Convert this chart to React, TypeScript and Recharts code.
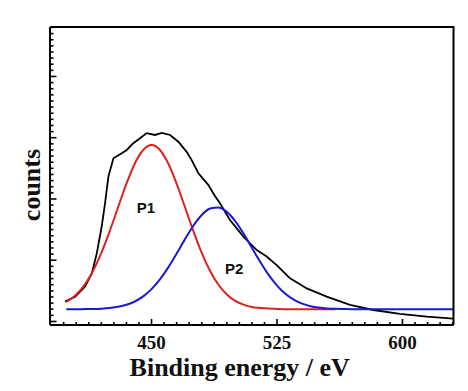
import { LineChart, Line, XAxis, YAxis, ReferenceDot } from 'recharts';

// measured spectrum (black)
const blackX = [398.3, 404.3, 410.3, 414.3, 417.3, 420.2, 422.2, 424.2, 427.2, 432.2, 435.2, 439.1, 443.1, 447.1, 452.1, 456.1, 461.1, 466.0, 471.0, 474.0, 478.0, 483.9, 487.5, 490.9, 496.9, 504.9, 512.9, 518.8, 524.8, 532.8, 542.8, 554.7, 568.6, 582.6, 598.5, 614.5, 628.4, 630.5];
const blackY = [6.5, 8.1, 11.4, 15.7, 22.3, 31.0, 38.6, 47.3, 53.3, 54.9, 56.0, 58.2, 59.8, 61.5, 60.9, 61.6, 60.9, 58.7, 55.4, 52.7, 48.4, 44.6, 41.3, 38.6, 33.1, 27.7, 23.3, 21.2, 18.4, 14.1, 10.8, 8.1, 5.4, 3.75, 2.45, 1.57, 1.0, 0.9];

// fitted peak P1 (red)
const p1X = [399, 405, 410, 415, 420, 425, 430, 435, 440, 445, 450, 455, 460, 465, 470, 475, 480, 485, 490, 495, 500, 505, 510, 515, 520, 525, 530, 535, 540, 545, 550, 555, 560];
const p1Y = [6.4, 8.8, 12.0, 16.5, 22.4, 29.5, 37.3, 45.0, 51.6, 56.0, 57.6, 56.0, 51.6, 45.0, 37.3, 29.5, 22.4, 16.5, 12.0, 8.8, 6.7, 5.5, 4.7, 4.4, 4.2, 4.1, 4.0, 4.0, 4.0, 4.0, 4.0, 4.0, 4.0];

// fitted peak P2 (blue)
const p2X = [399, 405, 410, 415, 420, 425, 430, 435, 440, 445, 450, 455, 460, 465, 470, 475, 480, 485, 490, 495, 500, 505, 510, 515, 520, 525, 530, 535, 540, 545, 550, 555, 560, 565, 570, 575, 580, 585, 590, 595, 600, 605, 610, 615, 620, 625, 630, 630.5];
const p2Y = [4.0, 4.0, 4.04, 4.09, 4.19, 4.4, 4.78, 5.44, 6.52, 8.18, 10.56, 13.73, 17.67, 22.18, 26.89, 31.27, 34.76, 36.86, 37.22, 35.79, 32.8, 28.71, 24.06, 19.42, 15.22, 11.73, 9.04, 7.11, 5.82, 5.0, 4.53, 4.26, 4.12, 4.05, 4.0, 4.0, 4.0, 4.0, 4.0, 4.0, 4.0, 4.0, 4.0, 4.0, 4.0, 4.0, 4.0, 4.0];

const xMajor = [450, 525, 600];
const yMajor = [0, 20, 40, 60, 80];
const xTicks = Array.from({ length: 32 }, (_, i) => 397.5 + i * 7.5);
const yTicks = Array.from({ length: 49 }, (_, i) => i * 2);

const X_DOMAIN = [389.3, 630.5];
const Y_DOMAIN = [-1.15, 96.15];

const toRows = (xs: number[], ys: number[]) => xs.map((x, i) => ({ x, y: ys[i] }));
const blackData = toRows(blackX, blackY);
const p1Data = toRows(p1X, p1Y);
const p2Data = toRows(p2X, p2Y);

const MARGIN = { top: 19, right: 14.5, bottom: 0, left: 0 };

const serif = '"Liberation Serif", "Times New Roman", serif';
const sans = '"Liberation Sans", Arial, sans-serif';

const isMajor = (list: number[], v: number) => list.some((m) => Math.abs(m - v) < 0.01);

const XTick = ({ x, y, payload }: any) => {
  const major = isMajor(xMajor, payload.value);
  return (
    <g>
      <line x1={x} y1={y} x2={x} y2={y - (major ? 6 : 3)} stroke="#000" strokeWidth={1.6} />
      {major && (
        <text x={x} y={y + 24} textAnchor="middle" fontFamily={serif} fontWeight="bold" fontSize={19} fill="#111">
          {payload.value}
        </text>
      )}
    </g>
  );
};

const YTick = ({ x, y, payload }: any) => {
  const major = isMajor(yMajor, payload.value);
  return <line x1={x} y1={y} x2={x + (major ? 6.5 : 3.5)} y2={y} stroke="#000" strokeWidth={1.6} />;
};

const PeakLabel = (text: string) => ({ viewBox }: any) => (
  <text x={viewBox.x + viewBox.width / 2} y={viewBox.y + viewBox.height / 2} textAnchor="middle"
    fontFamily={sans} fontWeight="bold" fontSize={15} fill="#111">
    {text}
  </text>
);

// x-axis title, plus the top and right edges of the box frame
const XTitle = ({ viewBox }: any) => {
  const left = viewBox.x;
  const right = viewBox.x + viewBox.width;
  const bottom = viewBox.y;
  return (
    <g>
      <path d={`M${left},${MARGIN.top} H${right} V${bottom}`} fill="none" stroke="#000" strokeWidth={2} />
      <text x={left + viewBox.width / 2 - 12} y={bottom + 51} textAnchor="middle"
        fontFamily={serif} fontWeight="bold" fontSize={26} fill="#111">
        Binding energy / eV
      </text>
    </g>
  );
};

export default function App() {
  return (
    <div style={{ width: 460, height: 377, background: '#fff' }}>
      <LineChart width={460} height={377} margin={MARGIN}>
        <XAxis dataKey="x" type="number" domain={X_DOMAIN} allowDataOverflow ticks={xTicks} interval={0}
          tick={<XTick />} tickLine={false} tickSize={0} tickMargin={0} height={60}
          axisLine={{ stroke: '#000', strokeWidth: 2 }}
          label={{ content: XTitle }}
        />
        <YAxis type="number" domain={Y_DOMAIN} allowDataOverflow ticks={yTicks} interval={0} width={42}
          tick={<YTick />} tickLine={false} tickSize={0} tickMargin={0}
          axisLine={{ stroke: '#000', strokeWidth: 2 }}
          label={{
            content: ({ viewBox }: any) => {
              const cx = 32;
              const cy = viewBox.y + viewBox.height / 2 + 9;
              return (
                <text x={cx} y={cy} transform={`rotate(-90, ${cx}, ${cy})`} textAnchor="middle"
                  fontFamily={serif} fontWeight="bold" fontSize={26} fill="#111">
                  counts
                </text>
              );
            },
          }}
        />
        <Line data={blackData} dataKey="y" type="linear" stroke="#000" strokeWidth={1.8} dot={false} isAnimationActive={false} />
        <Line data={p1Data} dataKey="y" type="monotone" stroke="#dd2222" strokeWidth={2} dot={false} isAnimationActive={false} />
        <Line data={p2Data} dataKey="y" type="monotone" stroke="#1a1ad0" strokeWidth={2} dot={false} isAnimationActive={false} />
        <ReferenceDot x={446.6} y={35.3} r={0} fill="none" stroke="none" label={{ content: PeakLabel('P1') }} />
        <ReferenceDot x={499.4} y={15.5} r={0} fill="none" stroke="none" label={{ content: PeakLabel('P2') }} />
      </LineChart>
    </div>
  );
}
